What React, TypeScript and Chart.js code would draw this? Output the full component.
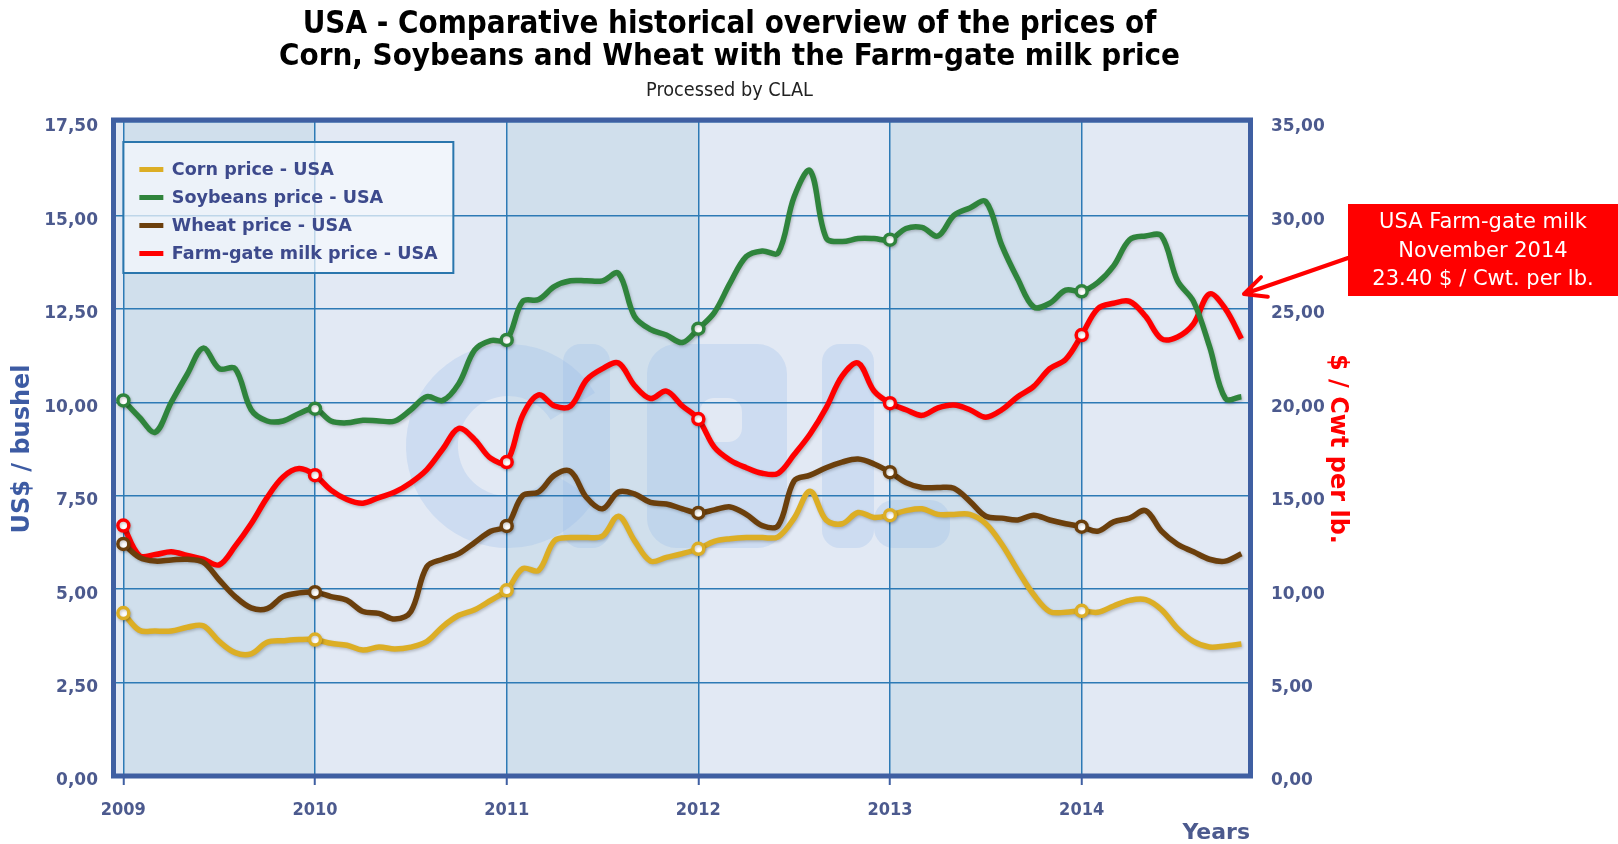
import React, { useEffect, useRef } from "react";
import { Chart, registerables } from "chart.js";

Chart.register(...registerables);

// ---------- data (monthly, Jan 2009 .. Nov 2014) ----------
const yearLabels = ["2009", "2010", "2011", "2012", "2013", "2014"];
const yearTickIndex = [0, 12, 24, 36, 48, 60];

const cornPrice = [
  4.36, 3.9, 3.88, 3.88, 3.98, 4.02, 3.6, 3.3, 3.27, 3.58, 3.62, 3.65,
  3.65, 3.55, 3.5, 3.37, 3.45, 3.4, 3.45, 3.6, 4.0, 4.3, 4.45, 4.7,
  4.97, 5.55, 5.5, 6.3, 6.38, 6.38, 6.42, 6.95, 6.3, 5.75, 5.85, 5.95,
  6.08, 6.28, 6.35, 6.38, 6.38, 6.4, 6.9, 7.62, 6.85, 6.75, 7.05, 6.92,
  6.98, 7.1, 7.15, 7.0, 7.0, 7.0, 6.75, 6.2, 5.5, 4.85, 4.4, 4.38,
  4.42, 4.38, 4.55, 4.7, 4.72, 4.45, 3.95, 3.6, 3.45, 3.48, 3.53,
];

const soybeanPrice = [
  10.05, 9.6, 9.2, 10.0, 10.75, 11.45, 10.9, 10.9, 9.8, 9.5, 9.5, 9.7,
  9.83, 9.5, 9.45, 9.52, 9.5, 9.5, 9.8, 10.15, 10.05, 10.5, 11.4, 11.65,
  11.67, 12.7, 12.75, 13.1, 13.25, 13.25, 13.25, 13.45, 12.3, 11.95, 11.8, 11.6,
  11.97, 12.4, 13.2, 13.9, 14.05, 14.0, 15.5, 16.2, 14.4, 14.3, 14.38, 14.38,
  14.35, 14.65, 14.68, 14.45, 15.0, 15.2, 15.37, 14.2, 13.3, 12.55, 12.65, 13.0,
  12.97, 13.2, 13.65, 14.35, 14.45, 14.45, 13.25, 12.7, 11.5, 10.1, 10.15,
];

const wheatPrice = [
  6.21, 5.85, 5.75, 5.78, 5.8, 5.72, 5.25, 4.8, 4.5, 4.48, 4.8, 4.9,
  4.92, 4.8, 4.7, 4.4, 4.35, 4.2, 4.4, 5.6, 5.8, 5.95, 6.25, 6.55,
  6.69, 7.5, 7.6, 8.05, 8.15, 7.45, 7.15, 7.6, 7.55, 7.32, 7.28, 7.15,
  7.04, 7.12, 7.2, 7.0, 6.7, 6.7, 7.9, 8.05, 8.25, 8.4, 8.48, 8.35,
  8.13, 7.85, 7.72, 7.72, 7.7, 7.35, 6.95, 6.9, 6.85, 6.98, 6.85, 6.75,
  6.67, 6.55, 6.8, 6.9, 7.1, 6.55, 6.2, 6.0, 5.8, 5.75, 5.95,
];

const milkPrice = [
  13.4, 11.8, 11.85, 12.0, 11.8, 11.6, 11.3, 12.3, 13.5, 14.9, 16.0, 16.45,
  16.1, 15.3, 14.8, 14.6, 14.9, 15.2, 15.7, 16.4, 17.5, 18.6, 18.0, 17.0,
  16.8, 19.3, 20.4, 19.8, 19.8, 21.2, 21.8, 22.1, 20.9, 20.2, 20.6, 19.8,
  19.1, 17.6, 16.9, 16.5, 16.2, 16.2, 17.2, 18.3, 19.7, 21.4, 22.1, 20.6,
  19.95, 19.6, 19.3, 19.7, 19.85, 19.6, 19.2, 19.6, 20.3, 20.85, 21.8, 22.3,
  23.6, 25.0, 25.3, 25.4, 24.6, 23.4, 23.5, 24.2, 25.8, 25.0, 23.4,
];

const seriesLabels = [
  "Corn price - USA",
  "Soybeans price - USA",
  "Wheat price - USA",
  "Farm-gate milk price - USA",
];
const seriesColors = ["#dcae25", "#2f843c", "#6b3f0c", "#ff0000"];

const titleLines = [
  "USA - Comparative historical overview of the prices of",
  "Corn, Soybeans and Wheat with the Farm-gate milk price",
];
const subtitleText = "Processed by CLAL";
const leftAxisTitle = "US$ / bushel";
const rightAxisTitle = "$ / Cwt per lb.";
const xAxisTitle = "Years";
const annotationLines = ["USA Farm-gate milk", "November 2014", "23.40 $ / Cwt. per lb."];

const leftMax = 17.5;
const leftStep = 2.5;
const rightMax = 35;
const rightStep = 5;
const xMin = -0.46;
const xMax = 70.54;

// ---------- styles ----------
const FONT = '"DejaVu Sans", Verdana, sans-serif';
const COND = '"DejaVu Sans Condensed", "DejaVu Sans", sans-serif';
const GRID = "#2d7ab5";
const FRAME = "#3f5fa2";
const TICK = "#4c5a8e";
const DARK_BAND = "#d0dfec";
const LIGHT_BAND = "#e2e9f4";
const WATERMARK = "rgba(150,185,235,0.28)";

const fmtComma = (v: number) => Number(v).toFixed(2).replace(".", ",");

function fitFont(ctx: CanvasRenderingContext2D, text: string, weight: string, family: string, target: number) {
  ctx.font = `${weight} 20px ${family}`;
  const w = ctx.measureText(text).width;
  const size = (20 * target) / w;
  ctx.font = `${weight} ${size}px ${family}`;
  return size;
}

function rr(ctx: CanvasRenderingContext2D, x: number, y: number, w: number, h: number, r: number) {
  ctx.moveTo(x + r, y);
  ctx.arcTo(x + w, y, x + w, y + h, r);
  ctx.arcTo(x + w, y + h, x, y + h, r);
  ctx.arcTo(x, y + h, x, y, r);
  ctx.arcTo(x, y, x + w, y, r);
  ctx.closePath();
}

const decorPlugin = {
  id: "decor",
  beforeDraw(chart: any) {
    const { ctx, chartArea: a, scales } = chart;
    const xs = scales.x;
    ctx.save();
    ctx.fillStyle = "#ffffff";
    ctx.fillRect(0, 0, chart.width, chart.height);
    ctx.fillStyle = LIGHT_BAND;
    ctx.fillRect(a.left, a.top, a.right - a.left, a.bottom - a.top);
    ctx.fillStyle = DARK_BAND;
    for (let k = 0; k < yearTickIndex.length; k += 2) {
      const x0 = xs.getPixelForValue(yearTickIndex[k]);
      const x1 = Math.min(xs.getPixelForValue(yearTickIndex[k] + 12), a.right);
      ctx.fillRect(x0, a.top, x1 - x0, a.bottom - a.top);
    }
    // faint "clal" watermark
    ctx.strokeStyle = WATERMARK;
    ctx.lineWidth = 52;
    ctx.beginPath();
    ctx.arc(508, 446, 76, 0.55, Math.PI * 2 - 0.55);
    ctx.stroke();
    ctx.fillStyle = WATERMARK;
    ctx.beginPath();
    rr(ctx, 563, 344, 47, 204, 18);
    ctx.fill();
    ctx.beginPath();
    rr(ctx, 647, 344, 140, 204, 30);
    rr(ctx, 700, 398, 42, 44, 14);
    ctx.fill("evenodd");
    ctx.beginPath();
    rr(ctx, 822, 344, 52, 204, 18);
    ctx.fill();
    ctx.beginPath();
    rr(ctx, 874, 500, 76, 48, 20);
    ctx.fill();
    ctx.restore();
  },
  beforeDatasetsDraw(chart: any) {
    const ctx = chart.ctx;
    ctx.save();
    ctx.shadowColor = "rgba(0,0,0,0.22)";
    ctx.shadowBlur = 3;
    ctx.shadowOffsetX = 1;
    ctx.shadowOffsetY = 1.5;
  },
  afterDatasetsDraw(chart: any) {
    chart.ctx.restore();
  },
  afterDraw(chart: any) {
    const { ctx, chartArea: a } = chart;
    ctx.save();

    // frame
    ctx.strokeStyle = FRAME;
    ctx.lineWidth = 5;
    ctx.strokeRect(a.left - 2.5, a.top - 2, a.right - a.left + 3, a.bottom - a.top + 2);

    // legend box
    const lx = chart.scales.x.getPixelForValue(0);
    const ly = a.top + 20;
    const lw = 330;
    const lh = 131;
    ctx.fillStyle = "rgba(246,249,253,0.72)";
    ctx.fillRect(lx, ly, lw, lh);
    ctx.strokeStyle = "#2a76ad";
    ctx.lineWidth = 2;
    ctx.strokeRect(lx, ly, lw, lh);
    const size = fitFont(ctx, seriesLabels[3], "bold", FONT, 266);
    ctx.font = `bold ${size}px ${FONT}`;
    ctx.textBaseline = "middle";
    ctx.textAlign = "left";
    chart.data.datasets.forEach((ds: any, i: number) => {
      const yy = ly + 27.5 + i * 28;
      ctx.strokeStyle = ds.borderColor;
      ctx.lineWidth = 5;
      ctx.beginPath();
      ctx.moveTo(lx + 16, yy);
      ctx.lineTo(lx + 40, yy);
      ctx.stroke();
      ctx.fillStyle = "#3d4a8c";
      ctx.fillText(ds.label, lx + 48.5, yy + 1);
    });

    // titles
    const cx = 729.5;
    ctx.fillStyle = "#000000";
    ctx.textAlign = "center";
    ctx.textBaseline = "middle";
    fitFont(ctx, titleLines[0], "bold", COND, 854);
    ctx.fillText(titleLines[0], cx, 25);
    fitFont(ctx, titleLines[1], "bold", COND, 901);
    ctx.fillText(titleLines[1], cx, 57);
    ctx.fillStyle = "#222222";
    fitFont(ctx, subtitleText, "normal", COND, 167);
    ctx.fillText(subtitleText, cx, 91);

    // annotation box
    const bx = 1348;
    const by = 204;
    ctx.fillStyle = "#ff0000";
    ctx.fillRect(bx, by, chart.width - bx, 92);
    ctx.fillStyle = "#ffffff";
    ctx.font = `normal 21px ${FONT}`;
    annotationLines.forEach((t, i) => ctx.fillText(t, 1483, 223 + i * 28.5));

    // arrow
    const sx = bx, sy = 258, tx = a.right - 6, ty = 294;
    ctx.strokeStyle = "#ff0000";
    ctx.lineWidth = 4;
    ctx.lineCap = "round";
    ctx.beginPath();
    ctx.moveTo(sx, sy);
    ctx.lineTo(tx, ty);
    const ang = Math.atan2(sy - ty, sx - tx);
    const wing = 24;
    for (const d of [-0.45, 0.45]) {
      ctx.moveTo(tx, ty);
      ctx.lineTo(tx + wing * Math.cos(ang + d), ty + wing * Math.sin(ang + d));
    }
    ctx.stroke();

    ctx.restore();
  },
};

export default function App() {
  const ref = useRef<HTMLCanvasElement>(null);

  useEffect(() => {
    const canvas = ref.current;
    if (!canvas) return;
    const toPoints = (arr: number[]) => arr.map((v, i) => ({ x: i, y: v }));
    const series = [cornPrice, soybeanPrice, wheatPrice, milkPrice];
    const datasets = series.map((arr, k) => ({
      label: seriesLabels[k],
      data: toPoints(arr),
      yAxisID: k === 3 ? "y1" : "y",
      borderColor: seriesColors[k],
      backgroundColor: "#ffffff",
      borderWidth: 5.5,
      tension: 0.35,
      fill: false,
      pointRadius: (c: any) => (c.dataIndex % 12 === 0 ? 5.5 : 0),
      pointBorderWidth: 3.5,
      pointBackgroundColor: "#ffffff",
      pointBorderColor: seriesColors[k],
    }));

    const chart = new Chart(canvas, {
      type: "line",
      data: { datasets } as any,
      plugins: [decorPlugin as any],
      options: {
        responsive: false,
        animation: false,
        devicePixelRatio: 1,
        layout: { padding: { left: 8, right: 266, top: 122, bottom: 0 } },
        plugins: {
          legend: { display: false },
          title: { display: false },
          tooltip: { enabled: false },
        },
        scales: {
          x: {
            type: "linear",
            position: "bottom",
            min: xMin,
            max: xMax,
            afterBuildTicks: (s: any) => {
              s.ticks = yearTickIndex.map((v) => ({ value: v }));
            },
            afterFit: (s: any) => {
              s.height = 68;
            },
            ticks: {
              autoSkip: false,
              maxRotation: 0,
              padding: 15,
              color: TICK,
              font: { family: COND, size: 18, weight: "bold" },
              callback: (v: any) => yearLabels[yearTickIndex.indexOf(Number(v))] ?? "",
            },
            grid: { color: GRID, lineWidth: 1.5, drawTicks: true, tickLength: 9, tickColor: FRAME, tickWidth: 2 },
            border: { display: false },
            title: {
              display: true,
              text: xAxisTitle,
              align: "end",
              color: TICK,
              padding: 0,
              font: { family: FONT, size: 22, weight: "bold", lineHeight: 1 },
            },
          },
          y: {
            position: "left",
            min: 0,
            max: leftMax,
            afterFit: (s: any) => {
              s.width = 108;
            },
            ticks: {
              stepSize: leftStep,
              padding: 18,
              labelOffset: 5,
              color: TICK,
              font: { family: FONT, size: 17, weight: "bold" },
              callback: (v: any) => fmtComma(v),
            },
            grid: { color: GRID, lineWidth: 1.5, drawTicks: false },
            border: { display: false },
            title: {
              display: true,
              text: leftAxisTitle,
              color: "#3d5ba3",
              padding: 0,
              font: { family: FONT, size: 24, weight: "bold" },
            },
          },
          y1: {
            position: "right",
            min: 0,
            max: rightMax,
            afterFit: (s: any) => {
              s.width = 102;
            },
            ticks: {
              stepSize: rightStep,
              padding: 21,
              labelOffset: 5,
              color: TICK,
              font: { family: FONT, size: 17, weight: "bold" },
              callback: (v: any) => fmtComma(v),
            },
            grid: { display: false, drawTicks: false },
            border: { display: false },
            title: {
              display: true,
              text: rightAxisTitle,
              color: "#ff0000",
              padding: 0,
              font: { family: FONT, size: 24, weight: "bold" },
            },
          },
        },
      } as any,
    });
    return () => chart.destroy();
  }, []);

  return (
    <div style={{ position: "fixed", left: 0, top: 0, width: 1618, height: 844, background: "#ffffff" }}>
      <canvas ref={ref} width={1618} height={844} style={{ display: "block", width: 1618, height: 844 }} />
    </div>
  );
}
